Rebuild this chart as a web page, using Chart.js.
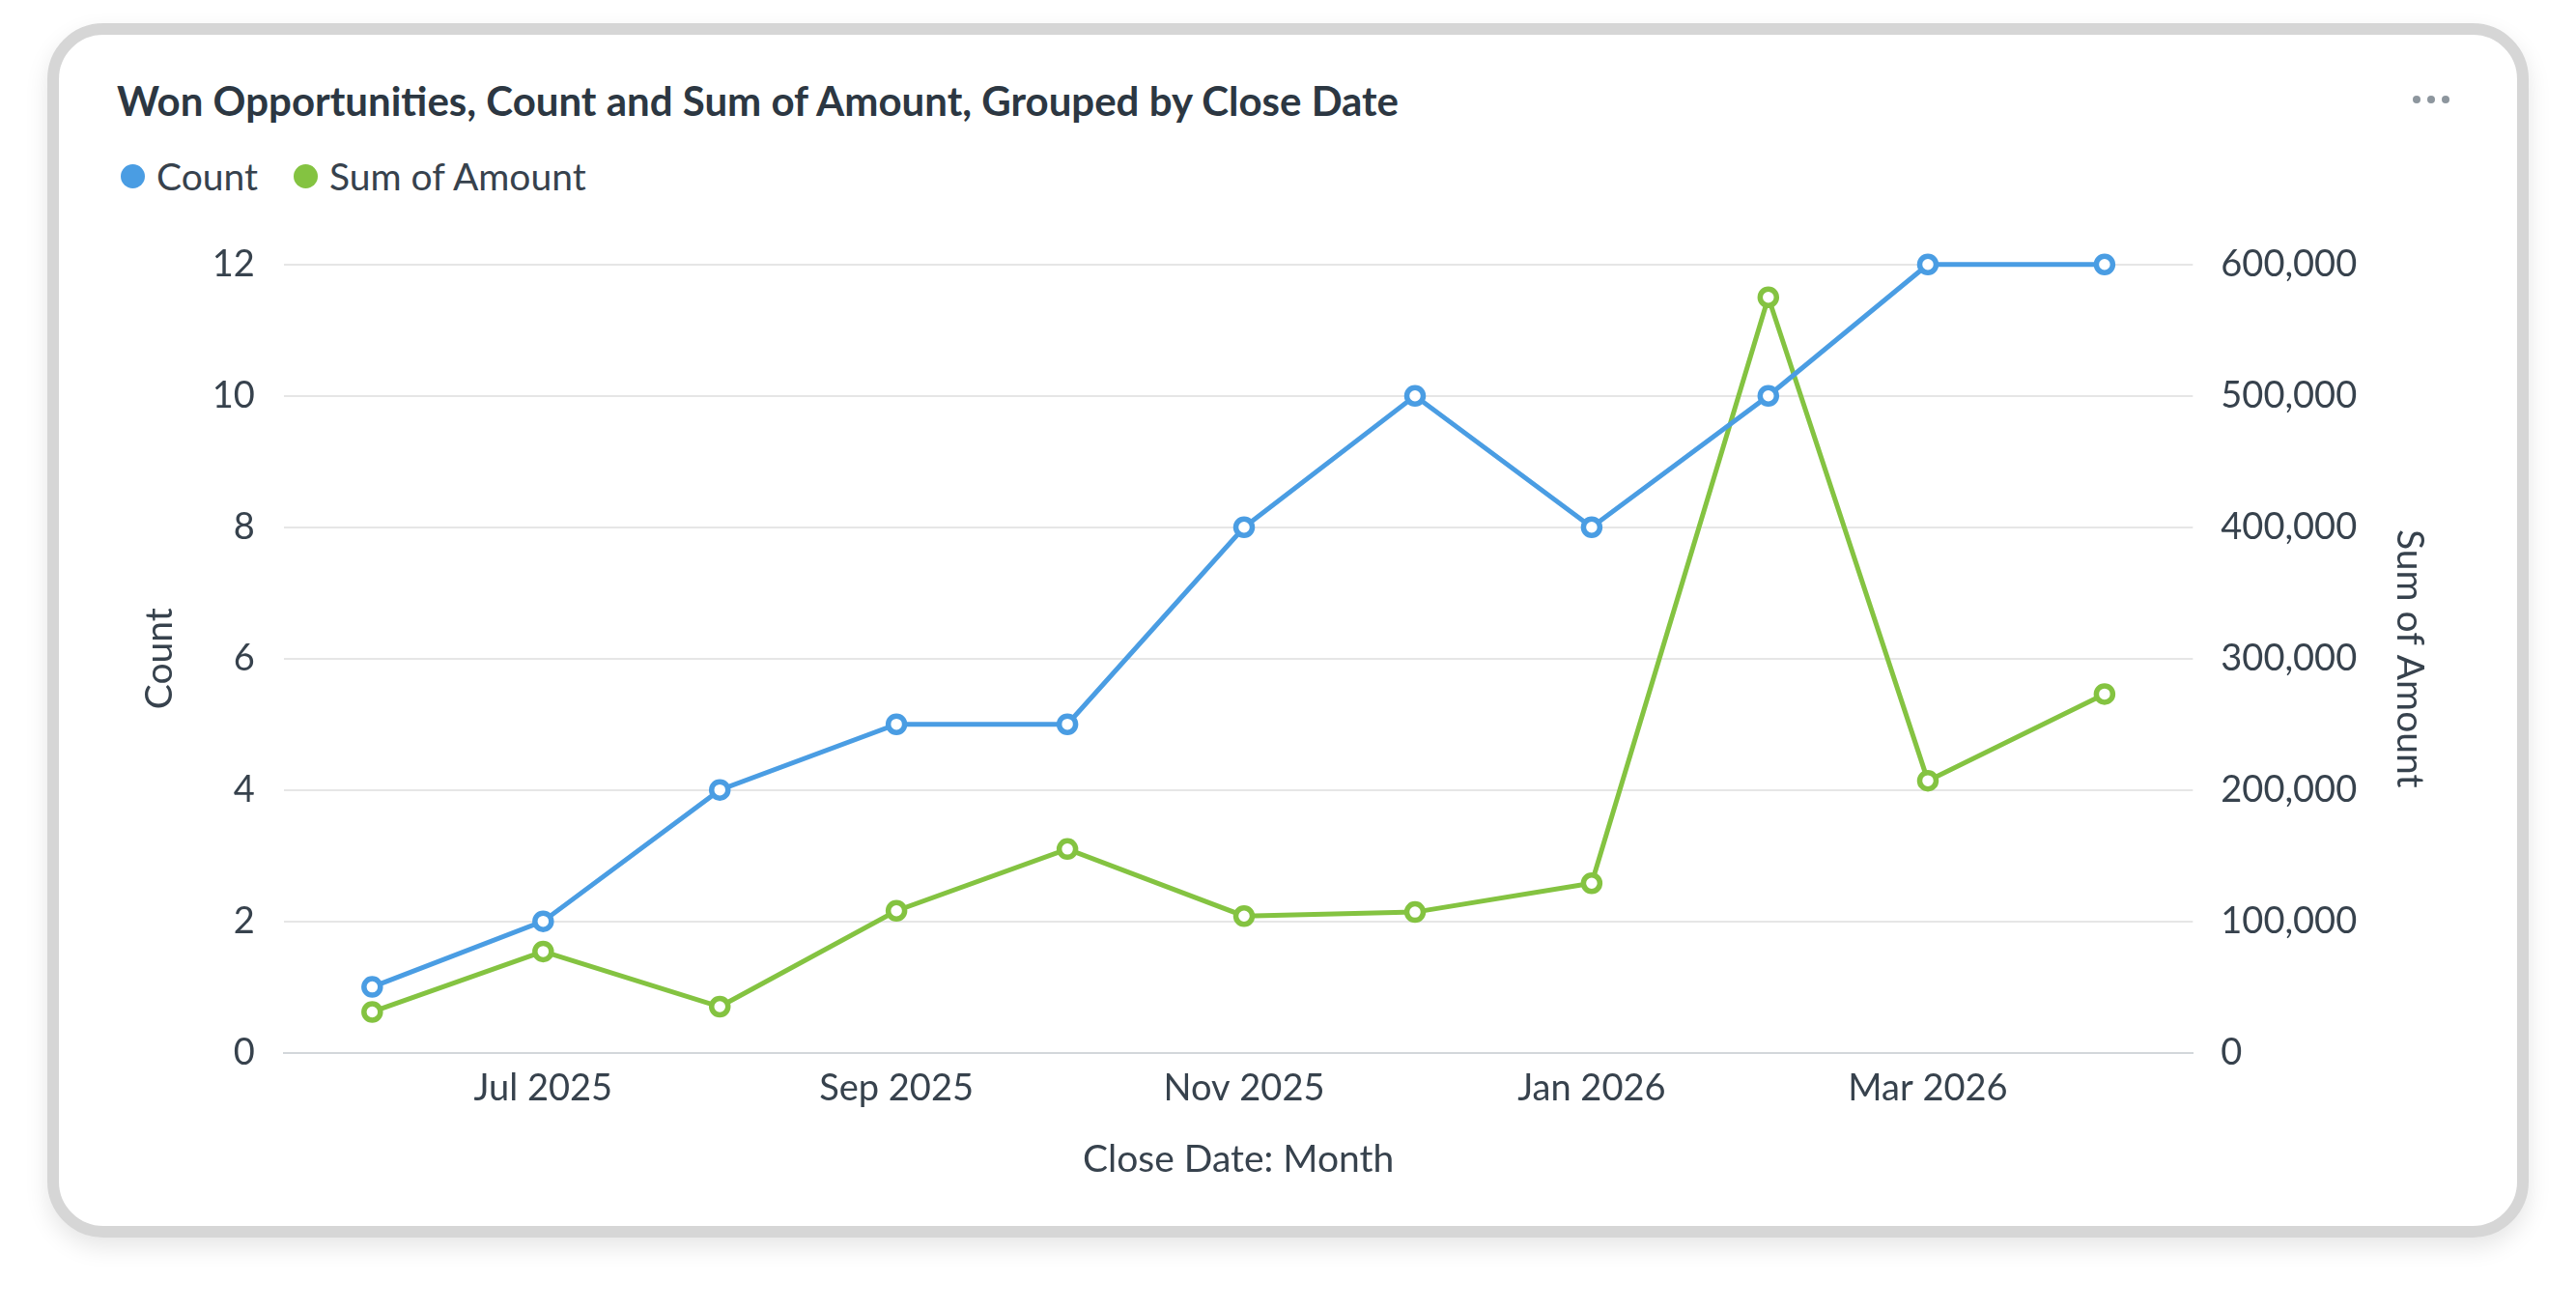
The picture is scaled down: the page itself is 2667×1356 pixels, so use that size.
<!DOCTYPE html>
<html lang="en">
<head>
    <meta charset="UTF-8">
    <title>Won Opportunities</title>
    <script src="https://cdn.jsdelivr.net/npm/chart.js"></script>
    <style>
        html, body { margin: 0; padding: 0; background: #ffffff; }
        body { width: 2667px; height: 1356px; position: relative; overflow: hidden; font-family: Lato, sans-serif; }
        .card {
            position: absolute; left: 49px; top: 24px; width: 2545px; height: 1233px;
            border: 12px solid #d6d6d6; border-radius: 58px; background: #fff;
            box-shadow: 0 10px 24px rgba(0, 0, 0, 0.10);
        }
        .chart-title {
            position: absolute; left: 121px; top: 79px; margin: 0; line-height: 50px;
            font: bold 42px Lato; color: #2c3742; white-space: nowrap;
        }
        .legend { position: absolute; left: 125px; top: 157px; font: 39px Lato; color: #37424d; white-space: nowrap; line-height: 47px; }
        .legend span { display: inline-flex; align-items: center; margin-right: 37px; }
        .legend i { display: inline-block; width: 25px; height: 25px; border-radius: 50%; margin-right: 12px; }
        .dots { position: absolute; left: 2498px; top: 91px; }
        .dots b { display: inline-block; width: 8px; height: 8px; border-radius: 50%; background: #8d969e; margin-right: 7px; }
        .chart-box { position: absolute; left: 63px; top: 221px; width: 2541px; height: 1046px; }
    </style>
</head>
<body>
    <div class="card"></div>
    <h2 class="chart-title">Won Opportunities, Count and Sum of Amount, Grouped by Close Date</h2>
    <div class="legend">
        <span><i style="background:#4a9de3"></i>Count</span><span><i style="background:#84c341"></i>Sum of Amount</span>
    </div>
    <div class="dots"><b></b><b></b><b></b></div>
    <div class="chart-box"><canvas id="wonChart"></canvas></div>

    <script>
        // close date months and values
        const months = ['2025-06', '2025-07', '2025-08', '2025-09', '2025-10', '2025-11',
                        '2025-12', '2026-01', '2026-02', '2026-03', '2026-04'];
        const countValues = [1, 2, 4, 5, 5, 8, 10, 8, 10, 12, 12];
        const amountValues = [31000, 77000, 35000, 108000, 155000, 104000,
                              107000, 129000, 575000, 207000, 273000];
        const tickMonths = ['2025-07', '2025-09', '2025-11', '2026-01', '2026-03'];
        const monthNames = ['Jan', 'Feb', 'Mar', 'Apr', 'May', 'Jun', 'Jul', 'Aug', 'Sep', 'Oct', 'Nov', 'Dec'];

        const blue = '#4a9de3';
        const green = '#84c341';
        const textColor = '#37424d';

        // month string -> day number, so the x axis keeps real month lengths
        function toDay(m) {
            const [y, mo] = m.split('-').map(Number);
            return Date.UTC(y, mo - 1, 1) / 86400000;
        }
        function dayLabel(d) {
            const dt = new Date(d * 86400000);
            return monthNames[dt.getUTCMonth()] + ' ' + dt.getUTCFullYear();
        }

        const countData = months.map((m, i) => ({ x: toDay(m), y: countValues[i] }));
        const amountData = months.map((m, i) => ({ x: toDay(m), y: amountValues[i] }));

        function lineSet(label, data, axis, color) {
            return {
                label: label,
                data: data,
                yAxisID: axis,
                borderColor: color,
                backgroundColor: '#ffffff',
                borderWidth: 5,
                pointRadius: 8.5,
                pointBorderWidth: 5.5,
                pointBackgroundColor: '#ffffff',
                pointBorderColor: color,
                tension: 0,
                clip: false
            };
        }

        Chart.defaults.font.family = 'Lato';

        new Chart(document.getElementById('wonChart').getContext('2d'), {
            type: 'line',
            data: {
                datasets: [
                    lineSet('Count', countData, 'y', blue),
                    lineSet('Sum of Amount', amountData, 'y1', green)
                ]
            },
            options: {
                responsive: true,
                maintainAspectRatio: false,
                animation: false,
                layout: { padding: { left: 58, right: 86, top: 42, bottom: 43 } },
                plugins: {
                    legend: { display: false },
                    tooltip: { enabled: false }
                },
                scales: {
                    x: {
                        type: 'linear',
                        min: toDay(months[0]) - 15.5,
                        max: toDay(months[months.length - 1]) + 15.5,
                        afterBuildTicks: scale => {
                            scale.ticks = tickMonths.map(m => ({ value: toDay(m) }));
                        },
                        grid: { display: false, drawTicks: false },
                        border: { display: true, color: '#d3d7db', width: 2 },
                        ticks: {
                            autoSkip: false, maxRotation: 0, padding: 14,
                            color: textColor, font: { size: 38 },
                            callback: v => dayLabel(v)
                        },
                        title: {
                            display: true, text: 'Close Date: Month', color: textColor,
                            font: { size: 39 }, padding: { top: 14, bottom: 0 }
                        }
                    },
                    y: {
                        position: 'left',
                        min: 0, max: 12,
                        ticks: { stepSize: 2, padding: 30, color: textColor, font: { size: 38 } },
                        grid: { color: '#e6e6e6', lineWidth: 2, drawTicks: false },
                        border: { display: false },
                        title: {
                            display: true, text: 'Count', color: textColor,
                            font: { size: 39 }, padding: { top: 21, bottom: 1 }
                        }
                    },
                    y1: {
                        position: 'right',
                        min: 0, max: 600000,
                        ticks: {
                            stepSize: 100000, padding: 29, color: textColor, font: { size: 38 },
                            callback: v => v.toLocaleString('en-US')
                        },
                        grid: { display: false, drawTicks: false },
                        border: { display: false },
                        title: {
                            display: true, text: 'Sum of Amount', color: textColor,
                            font: { size: 39 }, padding: { top: 0, bottom: 2 }
                        }
                    }
                }
            }
        });
    </script>
</body>
</html>
